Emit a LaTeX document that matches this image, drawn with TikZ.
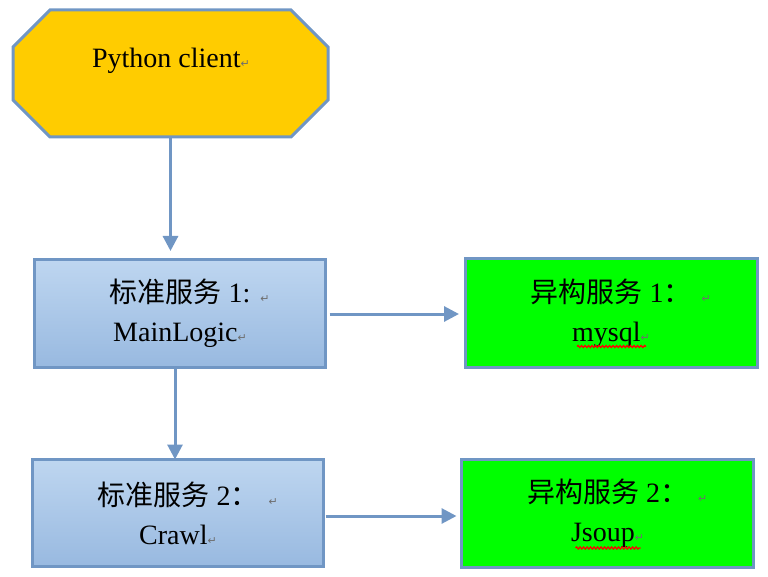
\documentclass[tikz,border=0pt]{standalone}
\usepackage{fontspec}
\setmainfont{Liberation Serif}
\newfontfamily\cjk{Noto Sans CJK SC}
\newfontfamily\symf{DejaVu Sans}
\usetikzlibrary{arrows.meta,calc,decorations.pathmorphing}
\definecolor{edgeblue}{RGB}{112,150,196}
\definecolor{boxtop}{RGB}{190,214,240}
\definecolor{boxbot}{RGB}{152,185,224}
\definecolor{clientyellow}{RGB}{255,204,0}
\definecolor{hetgreen}{RGB}{0,255,0}
\definecolor{markgray}{RGB}{110,110,110}
\newcommand\parmk{{\symf\fontsize{11}{11}\selectfont\color{markgray}↵}}
\newcommand\gapmk{\rlap{\hspace{10pt}\parmk}}
\begin{document}
\begin{tikzpicture}[x=1pt,y=-1pt,
  every node/.style={inner sep=0pt, outer sep=0pt},
  txt/.style={font=\fontsize{28}{39}\selectfont, align=center},
  octoframe/.style={draw=edgeblue, line width=3pt, fill=clientyellow, line join=miter},
  stdbox/.style={rectangle, draw=edgeblue, line width=3pt, top color=boxtop, bottom color=boxbot,
     minimum width=291pt, minimum height=107pt, txt},
  hetbox/.style={rectangle, draw=edgeblue, line width=3pt, fill=hetgreen,
     minimum width=292pt, minimum height=108pt, txt},
  link/.style={draw=edgeblue, line width=3pt, -{Triangle[width=15pt,length=15pt]}},
  squig/.style={draw=red, line width=1.3pt, decorate, decoration={snake, amplitude=1pt, segment length=3.5pt}}
]
\useasboundingbox (0,0) rectangle (768,577);

\node[rectangle, minimum width=315pt, minimum height=127pt] (client) at (170.5,73.5) {};
\draw[octoframe]
  ($(client.north west)+(37,0)$) -- ($(client.north east)+(-37,0)$) --
  ($(client.north east)+(0,37)$) -- ($(client.south east)+(0,-37)$) --
  ($(client.south east)+(-37,0)$) -- ($(client.south west)+(37,0)$) --
  ($(client.south west)+(0,-37)$) -- ($(client.north west)+(0,37)$) -- cycle;
\node[txt] (clienttext) at (171,61) {Python client\parmk};

\node[stdbox] (std1) at (180,313.5) {{\cjk 标准服务} 1:\gapmk\\MainLogic\parmk};
\node[hetbox] (het1) at (611,313) {{\cjk 异构服务} 1{\cjk ：}\gapmk\\mysql\parmk};
\node[stdbox] (std2) at (178,513) {{\cjk 标准服务} 2{\cjk ：}\gapmk\\Crawl\parmk};
\node[hetbox] (het2) at (607.5,513) {{\cjk 异构服务} 2{\cjk ：}\gapmk\\Jsoup\parmk};

\draw[link, shorten >=9pt] (client.south) -- (client.south |- std1.north);
\draw[link, shorten <=4pt, shorten >=6pt] ($(std1.east)+(0,0.5)$) -- ($(het1.west)+(0,1)$);
\draw[link] ($(std1.south)+(-5,0)$) -- ($(std2.north)+(-3,0)$);
\draw[link, shorten <=2pt, shorten >=5pt] ($(std2.east)+(0,3)$) -- ($(het2.west)+(0,3)$);

\draw[squig] ($(het1.center)+(-34,33.5)$) -- ($(het1.center)+(35,33.5)$);
\draw[squig] ($(het2.center)+(-32,35)$) -- ($(het2.center)+(33,35)$);
\end{tikzpicture}
\end{document}
